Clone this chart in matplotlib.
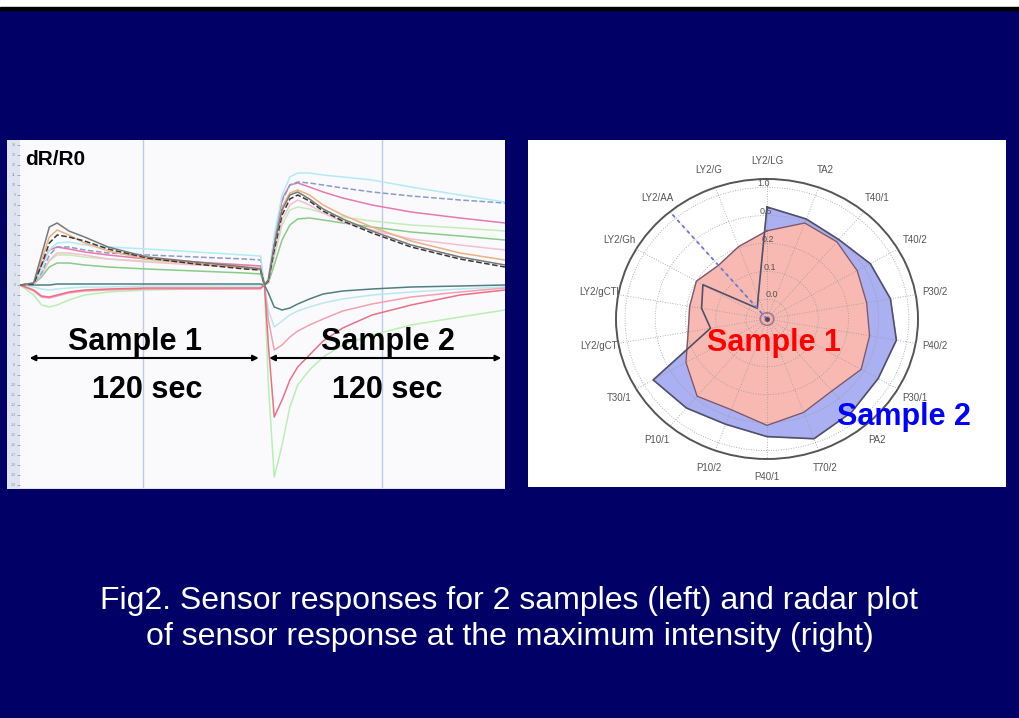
import numpy as np
import matplotlib.pyplot as plt
from matplotlib.patches import Rectangle

plt.rcParams['font.family'] = ['Liberation Sans', 'DejaVu Sans']

W, H = 1019, 718
NAVY = "#000066"

# ---- left panel: sensor responses dR/R0 (%), time in seconds ----
t_sec = [-5, 2, 6, 10, 14, 20, 28, 40, 60, 85, 110, 118, 120, 122, 125,
         129, 133, 137, 143, 150, 160, 175, 195, 220, 243]

resp_dark = [0, 0.2, 3.0, 5.8, 6.2, 5.4, 4.8, 3.8, 2.8, 2.3, 1.8, 1.6, 0, 0.5, 4.0,
             7.5, 9.0, 9.3, 8.6, 7.6, 6.6, 5.4, 4.0, 2.8, 2.0]
resp_black = [0, 0.1, 2.0, 4.2, 5.0, 4.8, 4.4, 3.6, 2.7, 2.1, 1.6, 1.5, 0, 0.4, 3.5,
              7.0, 8.6, 9.0, 8.4, 7.4, 6.4, 5.2, 3.8, 2.6, 1.8]
resp_orange = [0, 0.1, 2.5, 4.8, 5.5, 5.0, 4.2, 3.4, 2.6, 2.1, 1.7, 1.5, 0, 0.4, 3.8,
               7.8, 9.2, 9.5, 9.0, 8.0, 7.0, 5.8, 4.4, 3.2, 2.5]
resp_cyan = [0, 0.1, 1.5, 3.5, 4.2, 4.3, 4.0, 3.8, 3.6, 3.3, 3.0, 2.9, 0, 0.6, 5.0,
             9.0, 10.8, 11.2, 11.2, 11.0, 10.8, 10.5, 9.8, 9.0, 8.3]
resp_steel = [0, 0.1, 1.2, 3.0, 3.8, 3.8, 3.5, 3.2, 3.0, 2.8, 2.6, 2.5, 0, 0.5, 4.5,
              8.4, 10.0, 10.3, 10.2, 10.0, 9.7, 9.3, 8.9, 8.5, 8.2]
resp_magenta = [0, 0.2, 2.0, 3.5, 3.8, 3.6, 3.3, 3.0, 2.6, 2.3, 2.0, 1.9, 0, 0.5, 4.5,
                8.6, 10.0, 10.2, 9.8, 9.3, 8.7, 8.0, 7.3, 6.7, 6.2]
resp_ltpink = [0, 0.1, 1.0, 2.5, 3.2, 3.2, 3.0, 2.6, 2.3, 2.0, 1.8, 1.7, 0, 0.3, 3.0,
               6.5, 8.0, 8.5, 8.0, 7.2, 6.3, 5.5, 4.6, 4.0, 3.5]
resp_green = [0, 0.1, 0.8, 1.8, 2.2, 2.2, 2.0, 1.8, 1.6, 1.4, 1.2, 1.1, 0, 0.2, 2.0,
              4.5, 6.0, 6.6, 6.7, 6.5, 6.2, 5.8, 5.3, 4.9, 4.5]
resp_ltgreen = [0, 0.1, 1.0, 2.4, 3.0, 3.0, 2.8, 2.6, 2.4, 2.2, 2.0, 1.9, 0, 0.3, 2.8,
                6.0, 7.5, 7.8, 7.6, 7.2, 6.8, 6.4, 6.0, 5.7, 5.4]
resp_teal = [0, 0, 0, 0, 0.1, 0.1, 0.1, 0.1, 0.1, 0.1, 0.1, 0.1, 0, -0.8, -2.2,
             -2.5, -2.3, -1.9, -1.4, -0.9, -0.6, -0.4, -0.2, -0.1, 0.0]
resp_red = [0, -0.5, -1.1, -1.2, -1.0, -0.7, -0.5, -0.4, -0.3, -0.3, -0.3, -0.3, 0, -6.0, -13.2,
            -11.5, -9.5, -8.2, -7.0, -5.6, -4.3, -3.0, -2.0, -1.0, -0.5]
resp_pink = [0, -0.6, -1.2, -1.3, -1.1, -0.8, -0.6, -0.5, -0.4, -0.4, -0.4, -0.4, 0, -3.5, -6.5,
             -6.0, -5.2, -4.6, -4.0, -3.4, -2.6, -1.9, -1.2, -0.7, -0.3]
resp_green_neg = [0, -1.0, -2.0, -2.2, -2.0, -1.5, -1.0, -0.7, -0.5, -0.4, -0.3, -0.3, 0, -10.0, -19.2,
                  -16.0, -12.2, -10.0, -8.5, -7.2, -6.0, -5.0, -4.0, -3.2, -2.5]
resp_cyan_neg = [0, -0.2, -0.4, -0.5, -0.4, -0.3, -0.2, -0.2, -0.1, -0.1, -0.1, -0.1, 0, -2.5, -4.2,
                 -3.6, -3.0, -2.6, -2.2, -1.8, -1.4, -1.0, -0.7, -0.4, -0.2]

curves = [
    (resp_cyan_neg, "#b8e8f0", "-"),
    (resp_green_neg, "#b8f0b0", "-"),
    (resp_pink, "#f4a0b0", "-"),
    (resp_red, "#ec6f88", "-"),
    (resp_teal, "#4f7f80", "-"),
    (resp_ltgreen, "#c4ecb8", "-"),
    (resp_green, "#88cc88", "-"),
    (resp_ltpink, "#f4c0d0", "-"),
    (resp_magenta, "#e878b0", "-"),
    (resp_steel, "#8c9cc8", "--"),
    (resp_cyan, "#b0ecf4", "-"),
    (resp_orange, "#f0b080", "-"),
    (resp_black, "#383838", "--"),
    (resp_dark, "#787878", "-"),
]
grid_t = [58, 180]

# ---- right panel: radar at maximum intensity ----
sensors = ["LY2/LG", "TA2", "T40/1", "T40/2", "P30/2", "P40/2", "P30/1", "PA2", "T70/2",
           "P40/1", "P10/2", "P10/1", "T30/1", "LY2/gCT", "LY2/gCTl", "LY2/Gh", "LY2/AA", "LY2/G"]
sample1 = [0.63, 0.73, 0.72, 0.69, 0.67, 0.69, 0.72, 0.67, 0.71,
           0.76, 0.69, 0.72, 0.62, 0.53, 0.52, 0.54, 0.50, 0.55]
sample2 = [0.80, 0.76, 0.74, 0.79, 0.83, 0.87, 0.85, 0.87, 0.91,
           0.84, 0.80, 0.83, 0.87, 0.38, 0.44, 0.49, 0.10, 0.17]
rings = [0.14, 0.34, 0.54, 0.74, 0.94]
ring_labels = ["0.0", "0.1", "0.2", "0.5", "1.0"]


def fx(px):
    return px / W


def fy(py):
    return 1 - py / H


fig = plt.figure(figsize=(W / 100, H / 100), dpi=100)
fig.patch.set_facecolor(NAVY)

# slide top edge
fig.add_artist(Rectangle((0, fy(7)), 1, 7 / H, transform=fig.transFigure, color="white", zorder=0))
fig.add_artist(Rectangle((0, fy(10)), 1, 3 / H, transform=fig.transFigure, color="black", zorder=0))

# left panel frame (tick strip)
fig.add_artist(Rectangle((fx(7), fy(489)), fx(498), 349 / H, transform=fig.transFigure,
                         facecolor="#dfe4ee", edgecolor="none", zorder=0))

ax = fig.add_axes([fx(20), fy(488), fx(485), 348 / H])
ax.set_facecolor("#fafafc")
for vals, col, ls in curves:
    ax.plot(t_sec, vals, color=col, ls=ls, lw=1.1)
for gt in grid_t:
    ax.axvline(gt, color="#c0c8e6", lw=1.0, zorder=0)
ax.set_xlim(-5, 243)
ax.set_ylim(-20.3, 14.5)
ax.set_xticks([])
yt = np.arange(-20, 15, 1)
ax.set_yticks(yt)
ax.set_yticklabels([str(v) for v in yt], fontsize=2.5, color="#8090b8")
ax.tick_params(axis="y", length=2, width=0.5, color="#8090b8", pad=1)
for s in ax.spines.values():
    s.set_visible(False)

ax.text(0.01, 0.97, "dR/R0", transform=ax.transAxes, fontsize=15, fontweight="bold",
        ha="left", va="top", color="black")
ax.annotate("", xy=(-1.5, -7.3), xytext=(118.5, -7.3),
            arrowprops=dict(arrowstyle="<|-|>", color="black", lw=1.5, mutation_scale=8))
ax.annotate("", xy=(121, -7.3), xytext=(242.5, -7.3),
            arrowprops=dict(arrowstyle="<|-|>", color="black", lw=1.5, mutation_scale=8))
ax.text(54, -5.7, "Sample 1", fontsize=22, fontweight="bold", ha="center", va="center")
ax.text(60, -10.5, "120 sec", fontsize=22, fontweight="bold", ha="center", va="center")
ax.text(183, -5.7, "Sample 2", fontsize=22, fontweight="bold", ha="center", va="center")
ax.text(183, -10.5, "120 sec", fontsize=22, fontweight="bold", ha="center", va="center")

# right panel
fig.add_artist(Rectangle((fx(528), fy(487)), fx(478), 347 / H, transform=fig.transFigure,
                         facecolor="white", edgecolor="none", zorder=0))

cx, cy, rx, ry = 767, 319, 151, 140
rax = fig.add_axes([fx(cx - rx), fy(cy + ry), fx(2 * rx), 2 * ry / H], projection="polar")
rax.set_aspect("auto")
rax.set_facecolor("white")
rax.set_theta_zero_location("N")
rax.set_theta_direction(-1)

theta = np.deg2rad(np.arange(len(sensors)) * 360 / len(sensors))
th_closed = np.append(theta, theta[0])
s1 = np.append(sample1, sample1[0])
s2 = np.append(sample2, sample2[0])

rax.fill(th_closed, s2, color="#aab0f2", zorder=1)
rax.fill(th_closed, s1, color="#f7b9b2", zorder=2)
rax.plot(th_closed, s1, color="#7a5a70", lw=1.0, zorder=4)
rax.plot(th_closed, s2, color="#505068", lw=1.2, zorder=5)
rax.plot([np.deg2rad(320)] * 2, [0, 1.0], color="#6a78d8", lw=1.3, ls=(0, (2, 2)), zorder=5)
circ = np.linspace(0, 2 * np.pi, 100)
rax.plot(circ, np.full_like(circ, 0.045), color="#a07090", lw=1.0, zorder=6)
rax.plot([0], [0], "o", color="#604060", ms=2.5, zorder=6)

rax.set_ylim(0, 1.0)
rax.set_xticks(theta)
rax.set_xticklabels([])
rax.set_yticks(rings)
rax.set_yticklabels(ring_labels, fontsize=6.5, color="#555555")
rax.set_rlabel_position(-4)
rax.grid(True, color="#9a9a9a", lw=0.6, ls=(0, (1, 2)))
rax.set_axisbelow(False)
rax.spines["polar"].set_color("#555555")
rax.spines["polar"].set_linewidth(1.4)
for th, name in zip(theta, sensors):
    rax.text(th, 1.13, name, fontsize=7, color="#555555", ha="center", va="center", clip_on=False)

fig.text(fx(774), fy(343), "Sample 1", fontsize=22, fontweight="bold", color="#ff0000",
         ha="center", va="center")
fig.text(fx(904), fy(417), "Sample 2", fontsize=22, fontweight="bold", color="#0000ff",
         ha="center", va="center")

# caption
fig.text(0.5, fy(601), "Fig2. Sensor responses for 2 samples (left) and radar plot",
         color="white", fontsize=23, ha="center", va="center")
fig.text(0.5, fy(637), "of sensor response at the maximum intensity (right)",
         color="white", fontsize=23, ha="center", va="center")

fig.savefig("out.png", dpi=100, facecolor=NAVY)
